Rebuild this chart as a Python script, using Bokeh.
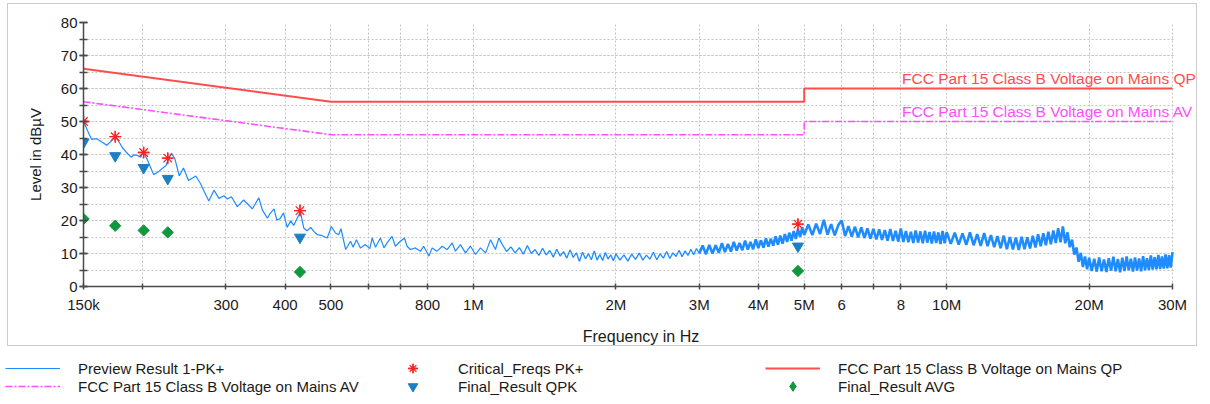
from bokeh.plotting import figure
from bokeh.models import (Range1d, FixedTicker, SingleIntervalTicker, CustomJSTickFormatter,
                          Label, Legend, LegendItem, ColumnDataSource, BoxAnnotation)
from bokeh.embed import file_html
from bokeh.resources import INLINE

# ---------------- data ----------------
# Preview Result 1-PK+ : low-frequency part (kHz)
pk_lo_khz = [150, 153, 156, 160, 164, 168, 172, 175, 178, 181,
             185, 189, 192, 195, 198, 201, 205, 208, 211, 216,
             222, 224, 226, 230, 234, 239, 244, 250, 259, 265,
             270, 276, 283, 290, 297, 302, 308, 317, 327, 335,
             341, 352, 358, 367, 371, 379, 384, 390, 397, 404,
             411, 417, 425, 431, 438, 445, 453, 460, 468, 479,
             491, 501, 511, 519, 525, 537, 550, 557, 566, 577,
             591, 604, 611, 621, 636, 647, 657, 673, 684, 701,
             715, 724, 736, 754, 773, 785, 805, 818, 838, 859,
             880, 902, 916, 939, 962, 986, 1010, 1035, 1061, 1087,
             1113, 1132]
pk_lo_level = [50.0, 47.2, 44.6, 44.8, 43.8, 42.8, 44.2, 45.4, 44.0, 42.2,
               40.6, 39.2, 39.9, 39.7, 39.2, 40.6, 38.2, 36.0, 33.9, 34.8,
               36.2, 36.6, 38.2, 40.4, 38.7, 33.5, 35.9, 32.1, 33.5, 31.2,
               28.7, 25.9, 29.2, 26.7, 27.5, 26.5, 27.2, 24.2, 26.2, 24.7,
               23.5, 26.9, 23.2, 20.7, 21.9, 23.5, 20.2, 20.5, 22.3, 17.9,
               19.9, 18.5, 20.9, 22.6, 17.7, 16.9, 17.9, 16.7, 15.7, 15.4,
               14.7, 18.2, 16.2, 15.7, 17.5, 11.2, 13.7, 11.9, 14.2, 11.7,
               12.7, 11.5, 14.7, 11.9, 14.7, 11.7, 13.2, 15.2, 12.2, 13.7,
               14.7, 12.2, 11.2, 11.7, 10.7, 12.2, 9.2, 11.7, 10.7, 12.2,
               11.2, 13.2, 10.7, 12.7, 10.2, 12.2, 9.7, 11.7, 10.2, 14.2,
               11.2, 14.7]

# Preview Result 1-PK+ : 1.13 - 3 MHz (thin noisy line)
pk_mid_mhz = [1.132, 1.150, 1.175, 1.200, 1.225, 1.250, 1.275, 1.300, 1.325, 1.350, 1.375,
              1.400, 1.425, 1.450, 1.475, 1.500, 1.525, 1.550, 1.575, 1.600, 1.625,
              1.650, 1.675, 1.700, 1.725, 1.750, 1.775, 1.800, 1.825, 1.850, 1.875,
              1.900, 1.925, 1.950, 1.975, 2.000,
              2.04, 2.08, 2.12, 2.16, 2.20, 2.24, 2.28, 2.32, 2.36, 2.40,
              2.44, 2.48, 2.52, 2.56, 2.60, 2.64, 2.68, 2.72, 2.76, 2.80,
              2.84, 2.88, 2.92, 2.96, 3.00]
pk_mid_level = [14.7, 12.8, 10.6, 12.0, 10.2, 11.8, 9.8, 12.4, 10.0, 11.2, 9.4,
                11.6, 9.6, 10.9, 8.9, 11.3, 9.2, 10.6, 8.6, 11.1, 8.8,
                10.2, 7.6, 10.4, 8.4, 9.9, 8.1, 10.8, 8.0, 9.7, 7.9,
                10.3, 8.3, 9.6, 7.8, 9.9,
                8.0, 9.6, 7.7, 9.8, 8.2, 10.1, 8.0, 9.5, 8.3, 10.4,
                8.1, 9.9, 8.6, 10.6, 8.5, 10.2, 9.1, 11.0, 9.0, 10.8,
                9.4, 11.3, 9.6, 11.5, 10.0]

# Preview Result 1-PK+ : 3 - 30 MHz (dense noise band)
pk_hi_mhz = [3.00, 3.05, 3.10, 3.15, 3.20, 3.25, 3.30, 3.35, 3.40, 3.45, 3.50,
             3.55, 3.60, 3.65, 3.70, 3.75, 3.80, 3.85, 3.90, 3.95, 4.00,
             4.05, 4.10, 4.15, 4.20, 4.25, 4.30, 4.35, 4.40, 4.45, 4.50,
             4.55, 4.60, 4.65, 4.70, 4.75, 4.80, 4.85, 4.90, 4.95, 5.00,
             5.1, 5.2, 5.3, 5.4, 5.5, 5.6, 5.7, 5.8, 5.9, 6.0,
             6.1, 6.2, 6.3, 6.4, 6.5, 6.6, 6.7, 6.8, 6.9, 7.0,
             7.1, 7.2, 7.3, 7.4, 7.5, 7.6, 7.7, 7.8, 7.9, 8.0,
             8.1, 8.2, 8.3, 8.4, 8.5, 8.6, 8.7, 8.8, 8.9, 9.0,
             9.1, 9.2, 9.3, 9.4, 9.5, 9.6, 9.7, 9.8, 9.9, 10.0,
             10.2, 10.4, 10.6, 10.8, 11.0, 11.2, 11.4, 11.6, 11.8, 12.0,
             12.2, 12.4, 12.6, 12.8, 13.0, 13.2, 13.4, 13.6, 13.8, 14.0,
             14.2, 14.4, 14.6, 14.8, 15.0, 15.2, 15.4, 15.6, 15.8, 16.0,
             16.2, 16.4, 16.6, 16.8, 17.0, 17.2, 17.4, 17.6, 17.8, 18.0,
             18.2, 18.4, 18.6, 18.8, 19.0, 19.2, 19.4, 19.6, 19.8, 20.0,
             20.25, 20.5, 20.75, 21.0, 21.25, 21.5, 21.75, 22.0, 22.25, 22.5,
             22.75, 23.0, 23.25, 23.5, 23.75, 24.0, 24.25, 24.5, 24.75, 25.0,
             25.25, 25.5, 25.75, 26.0, 26.25, 26.5, 26.75, 27.0, 27.25, 27.5,
             27.75, 28.0, 28.25, 28.5, 28.75, 29.0, 29.25, 29.5, 29.75, 30.0]
pk_hi_level = [10.0, 12.4, 9.8, 12.6, 10.0, 12.5, 10.2, 13.1, 10.4, 12.9, 10.6,
               13.5, 10.9, 13.2, 11.0, 13.9, 11.2, 13.5, 11.3, 14.3, 11.6,
               14.0, 11.8, 14.6, 12.1, 14.5, 12.4, 15.2, 12.7, 15.4, 13.0,
               15.9, 13.5, 16.3, 13.9, 16.8, 14.4, 17.4, 15.0, 17.9, 15.6,
               18.8, 15.6, 19.0, 15.9, 20.2, 15.7, 18.9, 15.5, 18.6, 20.0,
               15.3, 18.3, 15.1, 18.1, 14.9, 17.9, 14.7, 17.6, 14.5, 17.5,
               14.3, 17.3, 14.1, 17.1, 13.9, 17.4, 13.8, 16.9, 13.6, 17.6,
               13.5, 16.8, 13.4, 16.6, 13.2, 17.0, 13.3, 16.7, 13.1, 16.9,
               13.3, 16.5, 13.0, 16.7, 13.2, 16.4, 12.9, 16.8, 13.1, 16.5,
               12.9, 16.3, 12.7, 16.1, 12.6, 16.4, 12.5, 15.9, 12.3, 16.2,
               12.2, 15.6, 11.9, 15.3, 11.6, 15.4, 11.3, 15.0, 11.2, 14.8,
               11.1, 15.1, 11.3, 14.9, 11.5, 15.4, 11.8, 15.8, 12.2, 16.1,
               12.5, 16.6, 12.8, 17.0, 13.2, 17.7, 13.4, 18.2, 13.1, 16.4,
               11.9, 14.2, 9.7, 11.8, 7.5, 10.2, 5.9, 9.1, 5.2, 8.7,
               4.7, 8.4, 4.5, 8.8, 4.6, 8.2, 4.4, 8.6, 4.8, 9.0,
               4.6, 8.3, 4.3, 8.7, 4.7, 9.1, 4.9, 8.4, 4.5, 8.8,
               4.8, 8.5, 4.6, 9.2, 4.9, 8.6, 5.0, 9.4, 5.1, 8.9,
               5.2, 9.6, 5.3, 9.1, 5.4, 9.7, 5.5, 9.5, 5.7, 10.4]

# Critical frequencies / final results (kHz, dBuV)
crit_freq_khz = [150, 175, 201, 226, 430, 4850]
crit_level = [50.0, 45.4, 40.6, 38.9, 23.0, 18.9]
qpk_level = [43.7, 39.6, 36.0, 32.7, 14.9, 12.2]
avg_level = [20.5, 18.4, 17.0, 16.4, 4.4, 4.7]

# Limit lines (kHz, dBuV)
limit_freq_khz = [150, 500, 5000, 5000, 30000]
qp_limit = [66, 56, 56, 60, 60]
av_limit = [56, 46, 46, 50, 50]

# Axis ticks
x_ticks = [150e3, 200e3, 300e3, 400e3, 500e3, 600e3, 700e3, 800e3, 1e6, 2e6,
           3e6, 4e6, 5e6, 6e6, 7e6, 8e6, 10e6, 20e6, 30e6]
x_tick_labels = ["150k", "", "300", "400", "500", "", "", "800", "1M", "2M",
                 "3M", "4M", "5M", "6", "", "8", "10M", "20M", "30M"]

names = ["Preview Result 1-PK+", "Critical_Freqs PK+", "FCC Part 15 Class B Voltage on Mains QP",
         "FCC Part 15 Class B Voltage on Mains AV", "Final_Result QPK", "Final_Result AVG"]

# ---------------- styling ----------------
FONT = "Liberation Sans"
C_TRACE = "#1e8cff"
C_QP = "#ff4d4d"
C_AV = "#ff4dff"
C_CRIT = "#ff2020"
C_QPK = "#1b7fc4"
C_AVG = "#10993c"
AV_DASH = "7 2 2 2"
GRID = "#c4c4c4"
AXIS = "#4a4a4a"
TXT = "#1a1a1a"

src_lo = ColumnDataSource(dict(f=[f * 1e3 for f in pk_lo_khz], v=pk_lo_level))
src_mid = ColumnDataSource(dict(f=[f * 1e6 for f in pk_mid_mhz], v=pk_mid_level))
src_hi = ColumnDataSource(dict(f=[f * 1e6 for f in pk_hi_mhz], v=pk_hi_level))
src_lim = ColumnDataSource(dict(f=[f * 1e3 for f in limit_freq_khz], qp=qp_limit, av=av_limit))
src_res = ColumnDataSource(dict(f=[f * 1e3 for f in crit_freq_khz], crit=crit_level,
                                qpk=qpk_level, avg=avg_level))

# frame: 1115 px wide, 30 MHz sits 26 px before its right edge
x_end = 150e3 * 10 ** (2.30103 * 1115 / 1089)

p = figure(width=1190, height=343, x_axis_type="log",
           x_range=Range1d(150e3, x_end), y_range=Range1d(0, 80),
           output_backend="svg", toolbar_location=None,
           min_border_left=75, min_border_right=0, min_border_top=18, min_border_bottom=58)
p.margin = (3, 0, 0, 7)
p.outline_line_color = None
p.background_fill_color = "white"
p.border_fill_color = "white"
p.styles = {"border": "1px solid #cccccc"}

xa = p.xaxis[0]
xa.ticker = FixedTicker(ticks=x_ticks, minor_ticks=[])
xa.formatter = CustomJSTickFormatter(args=dict(vals=x_ticks, labs=x_tick_labels),
                                     code="const i = vals.indexOf(tick); return i < 0 ? '' : labs[i];")
xa.bounds = (150e3, 30e6)
xa.axis_label = "Frequency in Hz"
xa.axis_label_text_font = FONT
xa.axis_label_text_font_size = "16px"
xa.axis_label_text_font_style = "normal"
xa.axis_label_text_color = TXT
xa.axis_label_standoff = 12
xa.major_label_text_font = FONT
xa.major_label_text_font_size = "15px"
xa.major_label_text_color = TXT
xa.major_label_standoff = 6
xa.major_tick_in = 3
xa.major_tick_out = 3
xa.axis_line_color = AXIS
xa.axis_line_width = 1.5
xa.major_tick_line_color = AXIS
xa.major_tick_line_width = 1.5

ya = p.yaxis[0]
ya.ticker = SingleIntervalTicker(interval=10, num_minor_ticks=2)
ya.axis_label = "Level in dB\u00b5V"
ya.axis_label_text_font = FONT
ya.axis_label_text_font_size = "15px"
ya.axis_label_text_font_style = "normal"
ya.axis_label_text_color = TXT
ya.axis_label_standoff = 14
ya.major_label_text_font = FONT
ya.major_label_text_font_size = "15px"
ya.major_label_text_color = TXT
ya.major_label_standoff = 2
ya.major_tick_in = 4
ya.major_tick_out = 4
ya.minor_tick_in = 4
ya.minor_tick_out = 4
ya.axis_line_color = AXIS
ya.axis_line_width = 1.5
ya.major_tick_line_color = AXIS
ya.major_tick_line_width = 1.5
ya.minor_tick_line_color = AXIS
ya.minor_tick_line_width = 1.5

for g in (p.xgrid[0], p.ygrid[0]):
    g.grid_line_color = GRID
    g.grid_line_dash = "2 2"
    g.grid_line_width = 1
p.ygrid[0].minor_grid_line_color = GRID
p.ygrid[0].minor_grid_line_dash = "2 2"

# blank strip right of 30 MHz (grid stops at the last tick, as in the reference)
p.add_layout(BoxAnnotation(left=30.4e6, fill_color="white", fill_alpha=1.0,
                           line_color=None, level="underlay"))

# limit lines
p.line("f", "qp", source=src_lim, line_color=C_QP, line_width=2)
p.line("f", "av", source=src_lim, line_color=C_AV, line_width=1.6, line_dash=AV_DASH)
# preview trace
p.line("f", "v", source=src_lo, line_color=C_TRACE, line_width=1.2)
p.line("f", "v", source=src_mid, line_color=C_TRACE, line_width=1.3)
p.line("f", "v", source=src_hi, line_color=C_TRACE, line_width=2.6)
# results
p.scatter("f", "avg", source=src_res, marker="square", angle=0.785398, size=8,
          fill_color=C_AVG, line_color=C_AVG)
p.scatter("f", "qpk", source=src_res, marker="inverted_triangle", size=11,
          fill_color=C_QPK, line_color=C_QPK)
p.scatter("f", "crit", source=src_res, marker="asterisk", size=12, line_color=C_CRIT, line_width=1.3)
p.scatter("f", "crit", source=src_res, marker="cross", size=11, line_color=C_CRIT, line_width=1.3)

p.add_layout(Label(x=8.05e6, y=qp_limit[-1], y_offset=2, text=names[2], text_color=C_QP,
                   text_font=FONT, text_font_size="15.5px", text_baseline="bottom"))
p.add_layout(Label(x=8.05e6, y=av_limit[-1], y_offset=2, text=names[3], text_color=C_AV,
                   text_font=FONT, text_font_size="15.5px", text_baseline="bottom"))

# ---------------- legend strip (separate root, so its frame is not aligned to the chart) ----------------
lf = figure(width=1200, height=54, x_range=Range1d(0, 1), y_range=Range1d(0, 1),
            x_axis_type=None, y_axis_type=None, output_backend="svg",
            toolbar_location=None, min_border_left=5, min_border_right=0,
            min_border_top=0, min_border_bottom=0)
lf.outline_line_color = None
lf.background_fill_color = "white"
lf.border_fill_color = "white"
off = ColumnDataSource(dict(x=[-1.0], y=[-1.0]))  # legend-only renderers, outside view
r_pk = lf.line("x", "y", source=off, line_color=C_TRACE, line_width=1.2)
r_crit1 = lf.scatter("x", "y", source=off, marker="asterisk", line_color=C_CRIT, line_width=1.3)
r_crit2 = lf.scatter("x", "y", source=off, marker="cross", line_color=C_CRIT, line_width=1.3)
r_qp = lf.line("x", "y", source=off, line_color=C_QP, line_width=2)
r_av = lf.line("x", "y", source=off, line_color=C_AV, line_width=1.6, line_dash=AV_DASH)
r_qpk = lf.scatter("x", "y", source=off, marker="inverted_triangle", fill_color=C_QPK, line_color=C_QPK)
r_avg = lf.scatter("x", "y", source=off, marker="diamond", fill_color=C_AVG, line_color=C_AVG)

leg_style = dict(orientation="horizontal", glyph_width=55, glyph_height=24, label_standoff=18,
                 label_width=307, label_height=18, spacing=0, padding=0, margin=0,
                 border_line_color=None, background_fill_alpha=0,
                 label_text_font=FONT, label_text_font_size="15px", label_text_color=TXT)
leg_row1 = Legend(items=[LegendItem(label=names[0], renderers=[r_pk]),
                         LegendItem(label=names[1], renderers=[r_crit1, r_crit2]),
                         LegendItem(label=names[2], renderers=[r_qp])],
                  location=(0, 20), **leg_style)
leg_row2 = Legend(items=[LegendItem(label=names[3], renderers=[r_av]),
                         LegendItem(label=names[4], renderers=[r_qpk]),
                         LegendItem(label=names[5], renderers=[r_avg])],
                  location=(0, 2), **leg_style)
lf.add_layout(leg_row1)
lf.add_layout(leg_row2)

open("out.html", "w").write(file_html([p, lf], INLINE))
